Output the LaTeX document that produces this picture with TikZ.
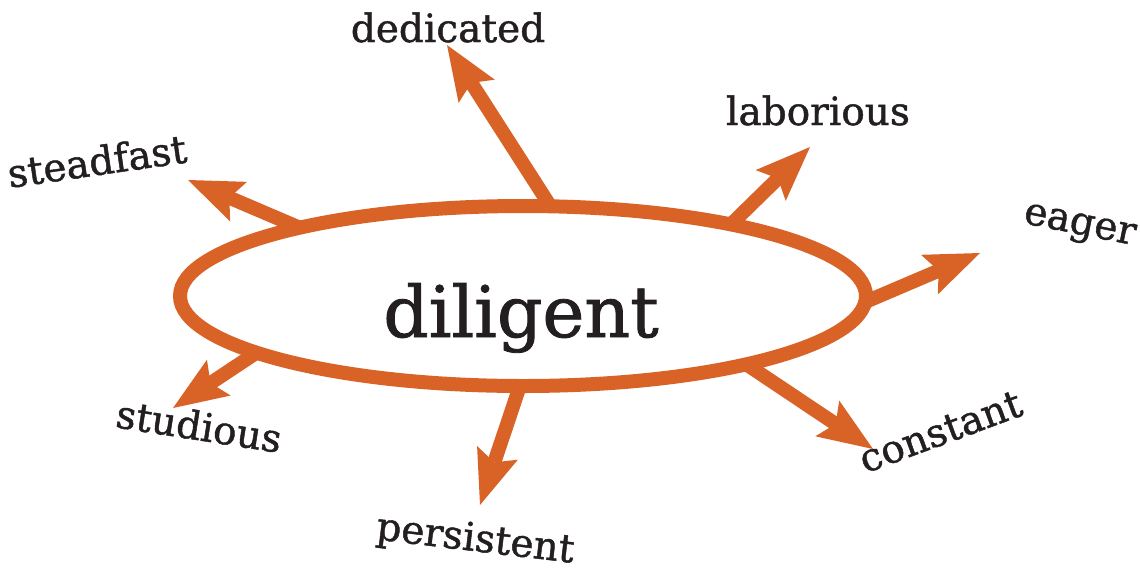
\documentclass[tikz,border=0pt]{standalone}
\usepackage{fontspec}
\setmainfont{DejaVu Serif}[FakeBold=1.2]
\usetikzlibrary{shapes.geometric,arrows.meta}
\definecolor{orng}{RGB}{217,98,39}
\definecolor{ink}{RGB}{35,31,32}
\tikzset{
  hub/.style={draw=orng, line width=14pt, ellipse, minimum width=686pt, minimum height=180pt, inner sep=0pt, outer sep=0pt},
  spoke/.style={draw=orng, line width=14pt, -{Stealth[length=55pt,width=43pt,inset=10pt,line width=0pt]}},
  word/.style={text=ink, font=\fontsize{39}{39}\selectfont, anchor=base, inner sep=0pt},
  bigword/.style={text=ink, font=\fontsize{71}{71}\selectfont, anchor=base, inner sep=0pt}
}
\begin{document}
\begin{tikzpicture}[x=1pt,y=-1pt]
\useasboundingbox (0,0) rectangle (1140,571);
\node[hub] (c) at (523,296) {};
\node[bigword] (main) at (521,337) {diligent};
% tips
\coordinate (tDed) at (447,45);
\coordinate (tLab) at (810,147);
\coordinate (tEag) at (980,253);
\coordinate (tCon) at (873,449);
\coordinate (tPer) at (480,505);
\coordinate (tStu) at (173,408);
\coordinate (tSte) at (188,180);
% spokes
\draw[spoke] (c.73.3) -- (tDed);
\draw[spoke] (c.19) -- (tLab);
\draw[spoke] (c.359.5) -- (tEag);
\draw[spoke] (c.343.4) -- (tCon);
\draw[spoke] (c.268) -- (tPer);
\draw[spoke] (c.192.7) -- (tStu);
\draw[spoke] (c.163.1) -- (tSte);
% labels
\node[word] (lDed) at (448,42) {dedicated};
\node[word] (lLab) at (818,125) {laborious};
\node[word, rotate=8.2] (lSte) at (99,175) {steadfast};
\node[word, rotate=-11.3] (lEag) at (1078,234) {eager};
\node[word, rotate=-8.9] (lStu) at (197,440) {studious};
\node[word, rotate=-6.8] (lPer) at (474,551) {persistent};
\node[word, rotate=20.3] (lCon) at (945,444) {constant};
\end{tikzpicture}
\end{document}
